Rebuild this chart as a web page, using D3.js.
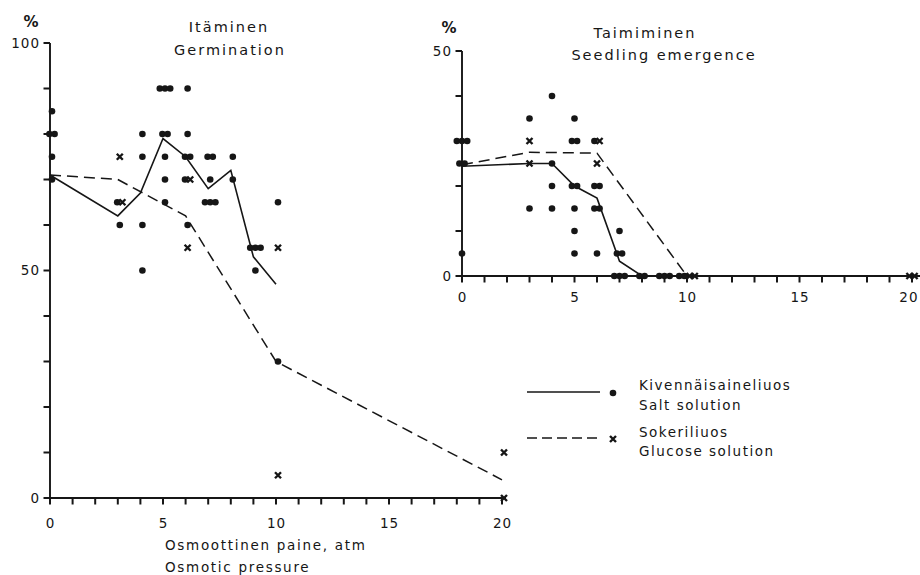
<!DOCTYPE html>
<html><head><meta charset="utf-8">
<script src="https://cdn.jsdelivr.net/npm/d3@7"></script>
<style>
body{margin:0;background:#fff;}
svg text{font-family:"DejaVu Sans",sans-serif;fill:#161616;}
</style></head>
<body><svg id="c" width="920" height="575"></svg>
<script>
// ---------- data ----------
const xTickValues = d3.range(0, 21);
const xTickLabels = [0, 5, 10, 15, 20];
const germYTicks = d3.range(0, 101, 10);
const germYLabels = [0, 50, 100];
const emergYTicks = d3.range(0, 51, 10);
const emergYLabels = [0, 50];

// Germination (left panel)
const germSaltLineX = [0, 3, 4, 5, 6, 7, 8, 9, 10];
const germSaltLineY = [71, 62, 67, 79, 75, 68, 72, 53, 47];
const germGlucLineX = [0, 3, 6, 10, 20];
const germGlucLineY = [71, 70, 62, 30, 4];
const germSaltPtX = [0,0,0,0,0, 3,3, 4,4,4,4, 5,5,5,5,5,5,5,5, 6,6,6,6,6,6, 7,7,7,7,7,7, 8,8, 9,9,9,9, 10,10];
const germSaltPtY = [85,80,80,75,70, 65,60, 80,75,60,50, 90,90,90,80,80,75,70,65, 90,80,75,75,70,60, 75,75,70,65,65,65, 75,70, 55,55,55,50, 65,30];
const germGlucPtX = [3,3, 6,6, 10,10, 20,20];
const germGlucPtY = [75,65, 70,55, 55,5, 10,0];

// Seedling emergence (right panel)
const emergSaltLineX = [0, 3, 4, 5, 6, 7, 8, 9, 10];
const emergSaltLineY = [24.4, 25, 25, 20, 17.3, 3.3, 0, 0, 0];
const emergGlucLineX = [0, 3, 6, 10, 20];
const emergGlucLineY = [24.7, 27.5, 27.3, 0, 0];
const emergSaltPtX = [0,0,0,0,0,0, 3,3, 4,4,4,4, 5,5,5,5,5,5,5,5, 6,6,6,6,6,6, 7,7,7,7,7,7, 8,8, 9,9,9, 10,10];
const emergSaltPtY = [30,30,30,25,25,5, 35,15, 40,25,20,15, 35,30,30,20,20,15,10,5, 30,20,20,15,15,5, 10,5,5,0,0,0, 0,0, 0,0,0, 0,0];
const emergGlucPtX = [3,3, 6,6, 10,10, 20,20];
const emergGlucPtY = [30,25, 30,25, 0,0, 0,0];

// ---------- drawing ----------
const svg = d3.select("#c");
const ink = "#161616";

function panel(o) {
  const g = svg.append("g");
  const x = d3.scaleLinear().domain([0, 20]).range(o.xr);
  const y = d3.scaleLinear().domain(o.yd).range(o.yr);

  const xa = d3.axisBottom(x).tickValues(xTickLabels).tickSize(7).tickSizeOuter(0)
    .tickPadding(o.xpad);
  const gx = g.append("g").attr("transform", `translate(0,${o.yr[0]})`).call(xa);
  gx.select(".domain").remove();
  const ya = d3.axisLeft(y).tickValues(o.yLabels).tickSize(7).tickSizeOuter(0)
    .tickPadding(o.ypad);
  const gy = g.append("g").attr("transform", `translate(${o.xr[0]},0)`).call(ya);
  gy.select(".domain").remove();
  [gx, gy].forEach(a => {
    a.selectAll(".tick line").remove();
    a.selectAll(".tick text").attr("font-size", 13.5).attr("font-family", "DejaVu Sans")
      .attr("fill", ink).style("letter-spacing", "1px");
  });
  if (o.lastEnd) {
    gx.selectAll(".tick text").filter(d => d === 20)
      .attr("text-anchor", "end").attr("x", 918 - x(20));
  }
  g.append("line").attr("x1", o.xr[0]).attr("x2", o.xEnd).attr("y1", o.yr[0]).attr("y2", o.yr[0])
    .attr("stroke", ink).attr("stroke-width", 1.9);
  g.append("line").attr("x1", o.xr[0]).attr("x2", o.xr[0]).attr("y1", o.yr[0]).attr("y2", o.yr[1])
    .attr("stroke", ink).attr("stroke-width", 1.9);
  g.selectAll("line.xt").data(xTickValues).enter().append("line").attr("class", "xt")
    .attr("x1", d => x(d)).attr("x2", d => x(d)).attr("y1", o.yr[0]).attr("y2", o.yr[0] + 6.5)
    .attr("stroke", ink).attr("stroke-width", 2);
  g.selectAll("line.yt").data(o.yTicks).enter().append("line").attr("class", "yt")
    .attr("x1", o.xr[0] - 6.5).attr("x2", o.xr[0]).attr("y1", d => y(d)).attr("y2", d => y(d))
    .attr("stroke", ink).attr("stroke-width", 2);

  const line = d3.line().x(d => x(d[0])).y(d => y(d[1]));
  g.append("path").datum(d3.zip(o.sLX, o.sLY)).attr("d", line)
    .attr("fill", "none").attr("stroke", ink).attr("stroke-width", 1.6);
  g.append("path").datum(d3.zip(o.gLX, o.gLY)).attr("d", line)
    .attr("fill", "none").attr("stroke", ink).attr("stroke-width", 1.5)
    .attr("stroke-dasharray", "11,6");

  const pts = [];
  o.sPX.forEach((v, i) => pts.push({x: v, y: o.sPY[i], k: "s"}));
  o.gPX.forEach((v, i) => pts.push({x: v, y: o.gPY[i], k: "g"}));
  const groups = d3.group(pts, d => d.x + "|" + d.y);
  groups.forEach(arr => {
    arr.forEach((d, i) => {
      const px = x(d.x) + (i - (arr.length - 1) / 2) * 5.2 + o.shift;
      const py = y(d.y);
      if (d.k === "s") {
        g.append("circle").attr("cx", px).attr("cy", py).attr("r", 3.3).attr("fill", ink);
      } else {
        g.append("path").attr("transform", `translate(${px},${py})`)
          .attr("d", "M-3,-3L3,3M-3,3L3,-3").attr("stroke", ink).attr("stroke-width", 2.4);
      }
    });
  });
  return g;
}

panel({xr: [50, 502], xEnd: 506, yd: [0, 100], yr: [498, 43], xpad: 13, ypad: 3,
  yTicks: germYTicks, yLabels: germYLabels, shift: 2,
  sLX: germSaltLineX, sLY: germSaltLineY, gLX: germGlucLineX, gLY: germGlucLineY,
  sPX: germSaltPtX, sPY: germSaltPtY, gPX: germGlucPtX, gPY: germGlucPtY});

panel({xr: [462, 912], xEnd: 920, yd: [0, 50], yr: [276, 51], xpad: 9, ypad: 3,
  yTicks: emergYTicks, yLabels: emergYLabels, shift: 0, lastEnd: true,
  sLX: emergSaltLineX, sLY: emergSaltLineY, gLX: emergGlucLineX, gLY: emergGlucLineY,
  sPX: emergSaltPtX, sPY: emergSaltPtY, gPX: emergGlucPtX, gPY: emergGlucPtY});

function txt(s, x, y, size, anchor, ls, weight) {
  svg.append("text").attr("x", x).attr("y", y).attr("font-size", size)
    .attr("text-anchor", anchor || "start").style("letter-spacing", (ls || 0) + "px")
    .attr("font-weight", weight || "normal").text(s);
}
txt("%", 31, 27, 15, "middle", 0, "bold");
txt("%", 449, 33, 15, "middle", 0, "bold");
txt("Itäminen", 229, 32, 14.5, "middle", 2);
txt("Germination", 230, 55, 14.5, "middle", 2);
txt("Taimiminen", 645, 38, 14.5, "middle", 2);
txt("Seedling emergence", 664, 60, 14.5, "middle", 2);
txt("Osmoottinen paine, atm", 165, 550, 13.5, "start", 1.7);
txt("Osmotic pressure", 165, 572, 13.5, "start", 1.7);

const lg = svg.append("g");
lg.append("line").attr("x1", 527).attr("x2", 600).attr("y1", 392).attr("y2", 392)
  .attr("stroke", ink).attr("stroke-width", 1.6);
lg.append("circle").attr("cx", 613).attr("cy", 393).attr("r", 3.3).attr("fill", ink);
lg.append("line").attr("x1", 527).attr("x2", 600).attr("y1", 438).attr("y2", 438)
  .attr("stroke", ink).attr("stroke-width", 1.6).attr("stroke-dasharray", "10,5");
lg.append("path").attr("transform", "translate(613,439)").attr("d", "M-3,-3L3,3M-3,3L3,-3")
  .attr("stroke", ink).attr("stroke-width", 2.4);
txt("Kivennäisaineliuos", 639, 390, 13.5, "start", 1.5);
txt("Salt solution", 639, 410, 13.5, "start", 1.5);
txt("Sokeriliuos", 639, 437, 13.5, "start", 1.5);
txt("Glucose solution", 639, 456, 13.5, "start", 1.5);
</script></body></html>
